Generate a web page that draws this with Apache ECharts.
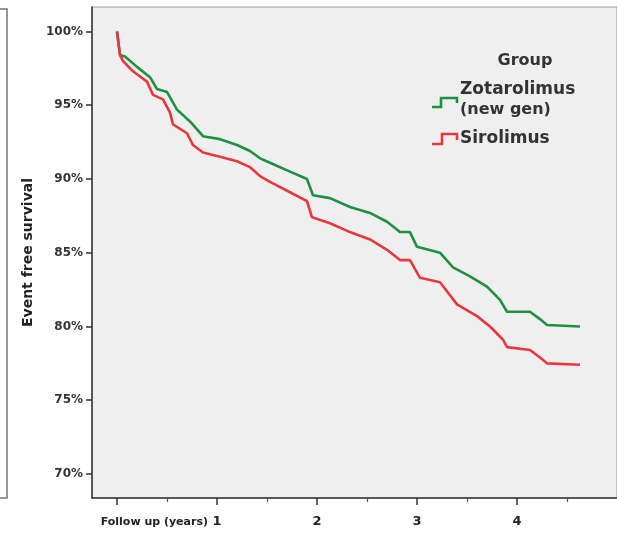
<!DOCTYPE html>
<html>
<head>
<meta charset="utf-8">
<script src="https://cdn.jsdelivr.net/npm/echarts@6/dist/echarts.min.js"></script>
<style>
  html, body { margin: 0; padding: 0; background: #fff; }
  #chart { width: 617px; height: 535px; }
</style>
</head>
<body>
<div id="chart"></div>
<script>
  // follow-up time in years and event free survival in %
  var zotaTime = [0, 0.03, 0.08, 0.20, 0.33, 0.40, 0.50, 0.60, 0.73, 0.86, 1.03, 1.20, 1.33, 1.43, 1.53, 1.73, 1.90, 1.96, 2.13, 2.33, 2.53, 2.70, 2.83, 2.93, 3.00, 3.23, 3.36, 3.53, 3.70, 3.83, 3.90, 4.13, 4.23, 4.30, 4.63]
  var zotaSurv = [100, 98.4, 98.3, 97.6, 96.9, 96.1, 95.9, 94.7, 93.9, 92.9, 92.7, 92.3, 91.9, 91.4, 91.1, 90.5, 90.0, 88.9, 88.7, 88.1, 87.7, 87.1, 86.4, 86.4, 85.4, 85.0, 84.0, 83.4, 82.7, 81.8, 81.0, 81.0, 80.5, 80.1, 80.0]
  var siroTime = [0, 0.03, 0.06, 0.16, 0.30, 0.36, 0.46, 0.53, 0.56, 0.70, 0.76, 0.86, 1.03, 1.20, 1.33, 1.43, 1.53, 1.73, 1.90, 1.95, 2.13, 2.33, 2.53, 2.70, 2.83, 2.93, 3.03, 3.23, 3.40, 3.60, 3.73, 3.86, 3.90, 4.13, 4.23, 4.30, 4.63]
  var siroSurv = [100, 98.4, 98.0, 97.3, 96.6, 95.7, 95.4, 94.5, 93.7, 93.1, 92.3, 91.8, 91.5, 91.2, 90.8, 90.2, 89.8, 89.1, 88.5, 87.4, 87.0, 86.4, 85.9, 85.2, 84.5, 84.5, 83.3, 83.0, 81.5, 80.7, 80.0, 79.1, 78.6, 78.4, 77.9, 77.5, 77.4]
  var yTicks = [70, 75, 80, 85, 90, 95, 100]
  var xTicks = [0, 1, 2, 3, 4]
  var xMinorTicks = [0.5, 1.5, 2.5, 3.5, 4.5]

  function pairs (xs, ys) {
    var out = []
    for (var i = 0; i < xs.length; i++) out.push([xs[i], ys[i]])
    return out
  }

  var chart = echarts.init(document.getElementById('chart'))
  var font = 'DejaVu Sans'
  var option = {
    backgroundColor: '#fff',
    animation: false,
    grid: {
      left: 92, top: 7, right: 0, bottom: 37,
      show: true,
      backgroundColor: '#efefef',
      borderColor: '#9a9a9a',
      borderWidth: 1
    },
    xAxis: [{
      type: 'value',
      min: -0.25,
      max: 5,
      axisLine: { onZero: false, lineStyle: { color: '#333', width: 1.5 } },
      axisTick: { customValues: xTicks, length: 7, lineStyle: { color: '#333', width: 1.5 } },
      axisLabel: {
        customValues: xTicks,
        margin: 17,
        color: '#222',
        fontFamily: font,
        fontWeight: 'bold',
        fontSize: 13,
        formatter: function (v) { return v === 0 ? '' : String(v) }
      },
      splitLine: { show: false }
    }, {
      type: 'value',
      min: -0.25,
      max: 5,
      position: 'bottom',
      axisLine: { show: false },
      axisTick: { customValues: xMinorTicks, length: 4, lineStyle: { color: '#555', width: 1.2 } },
      axisLabel: { show: false },
      splitLine: { show: false }
    }],
    yAxis: {
      type: 'value',
      min: 68.37,
      max: 101.66,
      name: 'Event free survival',
      nameLocation: 'middle',
      nameGap: 57,
      nameTextStyle: { color: '#222', fontFamily: font, fontWeight: 'bold', fontSize: 14 },
      axisLine: { onZero: false, lineStyle: { color: '#333', width: 1.5 } },
      axisTick: { customValues: yTicks, length: 6, lineStyle: { color: '#333', width: 1.5 } },
      axisLabel: {
        customValues: yTicks,
        margin: 9,
        color: '#333',
        fontFamily: font,
        fontWeight: 'bold',
        fontSize: 12,
        formatter: '{value}%'
      },
      splitLine: { show: false }
    },
    series: [{
      name: 'Zotarolimus (new gen)',
      type: 'line',
      showSymbol: false,
      lineStyle: { color: '#1f8f40', width: 2.6 },
      data: pairs(zotaTime, zotaSurv)
    }, {
      name: 'Sirolimus',
      type: 'line',
      showSymbol: false,
      lineStyle: { color: '#e8383f', width: 2.6 },
      data: pairs(siroTime, siroSurv)
    }],
    graphic: [
      // border of the neighbouring panel
      { type: 'polyline', shape: { points: [[0, 9], [7, 9], [7, 498], [0, 498]] }, style: { stroke: '#777', lineWidth: 1.5, fill: null } },
      { type: 'text', x: 208, y: 522, style: { text: 'Follow up (years)', fill: '#222', font: 'bold 11px "DejaVu Sans"', textAlign: 'right', textVerticalAlign: 'middle' } },
      { type: 'text', x: 525, y: 61, style: { text: 'Group', fill: '#333', font: 'bold 16px "DejaVu Sans"', textAlign: 'center', textVerticalAlign: 'middle' } },
      { type: 'polyline', shape: { points: [[432, 107], [441, 107], [441, 98], [457, 98], [457, 103]] }, style: { stroke: '#1f8f40', lineWidth: 2.6, fill: null } },
      { type: 'text', x: 460, y: 90, style: { text: 'Zotarolimus', fill: '#333', font: 'bold 17px "DejaVu Sans"', textAlign: 'left', textVerticalAlign: 'middle' } },
      { type: 'text', x: 460, y: 110, style: { text: '(new gen)', fill: '#333', font: 'bold 16px "DejaVu Sans"', textAlign: 'left', textVerticalAlign: 'middle' } },
      { type: 'polyline', shape: { points: [[432, 144], [442, 144], [442, 134], [457, 134], [457, 140]] }, style: { stroke: '#e8383f', lineWidth: 2.6, fill: null } },
      { type: 'text', x: 460, y: 139, style: { text: 'Sirolimus', fill: '#333', font: 'bold 17px "DejaVu Sans"', textAlign: 'left', textVerticalAlign: 'middle' } }
    ]
  }
  chart.setOption(option)
</script>
</body>
</html>
